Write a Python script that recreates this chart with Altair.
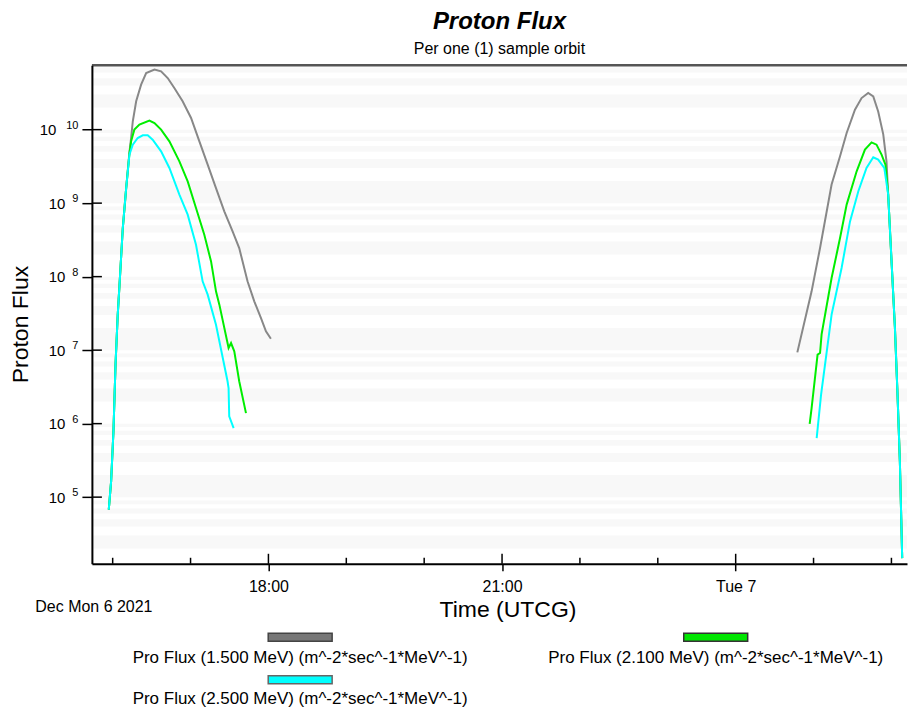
import altair as alt
import pandas as pd

FONT = "Liberation Sans"

DAY1 = "2021-12-06"
DAY2 = "2021-12-07"

SERIES = [
    "Pro Flux (1.500 MeV) (m^-2*sec^-1*MeV^-1)",
    "Pro Flux (2.100 MeV) (m^-2*sec^-1*MeV^-1)",
    "Pro Flux (2.500 MeV) (m^-2*sec^-1*MeV^-1)",
]
COLORS = ["#888888", "#00ee00", "#00ffff"]
SWATCH_FILL = ["#777777", "#00e600", "#00ffff"]
SWATCH_STROKE = ["#444444", "#333333", "#666666"]

# ---- 1.500 MeV (gray) ----
GRAY_P1_T = ["15:57:00", "15:58:48", "16:00:36", "16:02:12", "16:03:54", "16:05:12", "16:07:48",
             "16:10:24", "16:12:54", "16:14:12", "16:15:30", "16:18:06", "16:21:54", "16:25:48",
             "16:32:12", "16:37:18", "16:42:24", "16:47:30", "16:53:54", "17:00:24", "17:06:48",
             "17:13:12", "17:19:36", "17:26:00", "17:32:24", "17:37:30", "17:43:54", "17:49:06",
             "17:54:12", "17:58:06", "18:01:54"]
GRAY_P1_V = [6.76e4, 1.64e5, 7.86e5, 6.35e6, 3.04e7, 7.38e7, 4.58e8, 1.60e9, 4.9e9, 7.69e9,
             1.30e10, 2.43e10, 4.09e10, 5.89e10, 6.55e10, 6.21e10, 5.04e10, 3.68e10, 2.43e10,
             1.44e10, 6.93e9, 3.34e9, 1.60e9, 7.73e8, 4.13e8, 2.45e8, 8.63e7, 4.61e7, 2.74e7,
             1.80e7, 1.43e7]
GRAY_P2_T = ["00:47:30", "00:58:30", "01:05:00", "01:13:54", "01:20:24", "01:25:30", "01:31:54",
             "01:37:00", "01:42:06", "01:46:00", "01:49:48", "01:53:42", "01:56:12", "01:57:30",
             "02:00:06", "02:02:42", "02:04:42", "02:06:30", "02:08:18"]
GRAY_P2_V = [9.33e6, 6.31e7, 2.45e8, 1.79e9, 4.34e9, 8.99e9, 1.87e10, 2.69e10, 3.15e10, 2.84e10,
             1.77e10, 8.63e9, 3.71e9, 1.31e9, 1.61e8, 2.00e7, 2.48e6, 3.07e5, 1.48e4]

# ---- 2.100 MeV (green) ----
GREEN_P1_T = ["15:57:00", "15:58:48", "16:00:36", "16:02:12", "16:03:54", "16:05:12", "16:07:48",
              "16:10:24", "16:12:54", "16:14:12", "16:16:42", "16:20:36", "16:28:18", "16:32:12",
              "16:37:18", "16:43:42", "16:51:24", "16:57:48", "17:04:12", "17:10:36", "17:15:48",
              "17:19:36", "17:22:12", "17:28:30", "17:29:18", "17:31:12", "17:33:42", "17:37:30",
              "17:42:42"]
GREEN_P1_V = [6.76e4, 1.64e5, 7.86e5, 6.35e6, 3.04e7, 7.38e7, 4.58e8, 1.60e9, 4.7e9, 6.93e9,
              1.0e10, 1.17e10, 1.33e10, 1.23e10, 1.0e10, 6.93e9, 3.71e9, 1.98e9, 8.57e8, 3.72e8,
              1.61e8, 6.31e7, 4.16e7, 1.25e7, 1.07e7, 1.25e7, 9.64e6, 3.77e6, 1.39e6]
GREEN_P2_T = ["00:57:00", "00:58:30", "01:03:06", "01:05:00", "01:06:12", "01:13:54", "01:20:24",
              "01:25:30", "01:33:12", "01:39:36", "01:44:42", "01:48:30", "01:52:24", "01:55:24",
              "01:57:30", "02:00:06", "02:02:42", "02:04:42", "02:06:30", "02:08:18"]
GREEN_P2_V = [9.89e5, 1.63e6, 8.69e6, 9.14e6, 1.64e7, 9.57e7, 3.35e8, 9.55e8, 2.71e9, 5.35e9,
              6.71e9, 6.25e9, 4.57e9, 3.34e9, 1.31e9, 1.61e8, 2.00e7, 2.48e6, 3.07e5, 1.48e4]

# ---- 2.500 MeV (cyan) ----
CYAN_P1_T = ["15:57:00", "15:58:48", "16:00:36", "16:02:12", "16:03:54", "16:05:12", "16:07:48",
             "16:10:24", "16:12:54", "16:15:30", "16:19:18", "16:23:12", "16:27:00", "16:30:48",
             "16:37:18", "16:43:42", "16:51:24", "16:57:48", "17:04:12", "17:09:18", "17:13:12",
             "17:19:36", "17:28:30", "17:29:18", "17:29:48", "17:33:12"]
CYAN_P1_V = [6.76e4, 1.64e5, 7.86e5, 6.35e6, 3.04e7, 7.38e7, 4.58e8, 1.60e9, 4.57e9, 6.25e9,
             7.69e9, 8.36e9, 8.36e9, 7.31e9, 5.07e9, 3.01e9, 1.31e9, 6.98e8, 2.72e8, 8.63e7,
             5.69e7, 2.22e7, 3.77e6, 3.05e6, 1.26e6, 8.71e5]
CYAN_P2_T = ["01:02:24", "01:05:48", "01:13:54", "01:21:36", "01:28:06", "01:34:30", "01:40:48",
             "01:46:00", "01:49:48", "01:54:30", "01:57:30", "02:00:06", "02:02:42", "02:04:42",
             "02:06:30", "02:08:18"]
CYAN_P2_V = [6.37e5, 2.48e6, 3.04e7, 1.31e8, 5.65e8, 1.45e9, 3.01e9, 4.20e9, 3.91e9, 3.01e9,
             1.31e9, 1.61e8, 2.00e7, 2.48e6, 3.07e5, 1.48e4]

Y_TICK_EXP = [5, 6, 7, 8, 9, 10]
MAJOR_HOURS = [(DAY1, "18:00:00"), (DAY1, "21:00:00"), (DAY2, "00:00:00")]
MINOR_HOURS = [(DAY1, "16:00:00"), (DAY1, "17:00:00"), (DAY1, "19:00:00"), (DAY1, "20:00:00"),
               (DAY1, "22:00:00"), (DAY1, "23:00:00"), (DAY2, "01:00:00"), (DAY2, "02:00:00")]
DATE_LABEL = "Dec Mon 6 2021"

W, H = 816, 499


def series_frame(t1, v1, t2, v2):
    rows = [{"time": f"{DAY1}T{t}Z", "flux": v, "pass": 1} for t, v in zip(t1, v1)]
    rows += [{"time": f"{DAY2}T{t}Z", "flux": v, "pass": 2} for t, v in zip(t2, v2)]
    return pd.DataFrame(rows)


def dt(day, hh, mm=0):
    y, m, d = (int(s) for s in day.split("-"))
    return alt.DateTime(year=y, month=m, date=d, hours=hh, minutes=mm, utc=True)


x_enc = alt.X(
    "time:T",
    scale=alt.Scale(type="utc", domain=[dt(DAY1, 15, 44), dt(DAY2, 2, 12)], nice=False),
    axis=alt.Axis(
        values=[dt(d, int(h[:2])) for d, h in MAJOR_HOURS],
        labelExpr="utchours(datum.value) == 0 ? 'Tue 7' : utcFormat(datum.value, '%H:%M')",
        title="Time (UTCG)", tickSize=7, labelPadding=8, labelFontSize=16,
        titleFontSize=23, titleX=416, titleY=46, titleBaseline="middle", grid=False, zindex=2,
    ),
)
y_enc = alt.Y(
    "flux:Q",
    scale=alt.Scale(type="log", domain=[1.24e4, 7.5e10], nice=False),
    axis=alt.Axis(
        values=[10.0 ** e for e in Y_TICK_EXP],
        labelExpr="'10'",
        labelPadding={"condition": {"test": "datum.value >= 1e10", "value": 26}, "value": 17},
        title="Proton Flux", tickSize=10, labelFontSize=15,
        titleFontSize=23, titleX=-71, titleY=259, titleBaseline="middle", grid=False, zindex=2,
    ),
)

# alternating light bands between log minor gridlines
bounds = [k * 10.0 ** d for d in range(4, 11) for k in range(1, 10)] + [1e11]
bands = pd.DataFrame([{"flux": bounds[i], "flux2": bounds[i + 1]}
                      for i in range(len(bounds) - 1) if i % 2 == 1])
band_layer = alt.Chart(bands).mark_rect(clip=True, color="#f8f8f8").encode(
    y=y_enc, y2="flux2:Q", x=alt.value(1), x2=alt.value(W))

line_layers = []
for (t1, v1, t2, v2), color in zip(
        [(GRAY_P1_T, GRAY_P1_V, GRAY_P2_T, GRAY_P2_V),
         (GREEN_P1_T, GREEN_P1_V, GREEN_P2_T, GREEN_P2_V),
         (CYAN_P1_T, CYAN_P1_V, CYAN_P2_T, CYAN_P2_V)], COLORS):
    line_layers.append(
        alt.Chart(series_frame(t1, v1, t2, v2)).mark_line(color=color, strokeWidth=2, clip=True)
        .encode(x=x_enc, y=y_enc, detail="pass:N", order="time:T"))

ytick_df = pd.DataFrame({"flux": [10.0 ** e for e in Y_TICK_EXP], "exp": [str(e) for e in Y_TICK_EXP]})
ytick_inner = alt.Chart(ytick_df).mark_rule(color="black", strokeWidth=1.5).encode(
    y=y_enc, x=alt.value(0), x2=alt.value(10))
exp_text = alt.Chart(ytick_df).mark_text(align="right", baseline="middle", fontSize=11, dy=-4,
                                         font=FONT, color="black").encode(
    y=y_enc, x=alt.value(-13.5), text="exp:N")

major_df = pd.DataFrame({"time": [f"{d}T{h}Z" for d, h in MAJOR_HOURS]})
minor_df = pd.DataFrame({"time": [f"{d}T{h}Z" for d, h in MINOR_HOURS]})
xtick_major = alt.Chart(major_df).mark_rule(color="black", strokeWidth=1.5).encode(
    x=x_enc, y=alt.value(H), y2=alt.value(H - 10))
xtick_minor = alt.Chart(minor_df).mark_rule(color="black", strokeWidth=1.5).encode(
    x=x_enc, y=alt.value(H), y2=alt.value(H - 6))

top_border = alt.Chart(pd.DataFrame({"a": [0]})).mark_rule(color="#555555", strokeWidth=2.5).encode(
    x=alt.value(0), x2=alt.value(W), y=alt.value(0))

date_text = alt.Chart(pd.DataFrame({"label": [DATE_LABEL]})).mark_text(
    fontSize=16, font=FONT, color="black", align="center", baseline="middle").encode(
    x=alt.value(2), y=alt.value(542), text="label:N")

# legend: swatch above centred label, two columns
LEG_CX = [208.5, 624.5, 208.5]
LEG_SY = [572.5, 572.5, 615]
LEG_LY = [593.5, 593.5, 634.5]
legend_layers = []
for label, fill, stroke, cx, sy, ly in zip(SERIES, SWATCH_FILL, SWATCH_STROKE, LEG_CX, LEG_SY, LEG_LY):
    d = pd.DataFrame({"label": [label]})
    legend_layers.append(alt.Chart(d).mark_rect(fill=fill, stroke=stroke, strokeWidth=1.5).encode(
        x=alt.value(cx - 32), x2=alt.value(cx + 32), y=alt.value(sy - 4), y2=alt.value(sy + 4)))
    legend_layers.append(alt.Chart(d).mark_text(fontSize=17, font=FONT, color="black",
                                                align="center", baseline="middle").encode(
        x=alt.value(cx), y=alt.value(ly), text="label:N"))

chart = alt.layer(
    band_layer, *line_layers, ytick_inner, xtick_major, xtick_minor, top_border,
    exp_text, date_text, *legend_layers,
).properties(
    width=W, height=H,
    padding={"left": 2, "top": 1, "right": 0, "bottom": 0},
    title=alt.TitleParams(
        text="Proton Flux", subtitle="Per one (1) sample orbit",
        font=FONT, fontSize=24, fontStyle="italic", fontWeight="bold", color="black",
        subtitleFont=FONT, subtitleFontSize=16, subtitleColor="black",
        anchor="middle", frame="group", offset=6, subtitlePadding=7, dy=-1,
    ),
).configure_view(stroke=None).configure_axis(
    domainColor="black", domainWidth=2, tickColor="black", tickWidth=1.5,
    labelColor="black", labelFont=FONT, titleFont=FONT, titleFontWeight="normal",
    titleColor="black",
)

chart.save("out.html", embed_options={"renderer": "svg", "actions": False})
